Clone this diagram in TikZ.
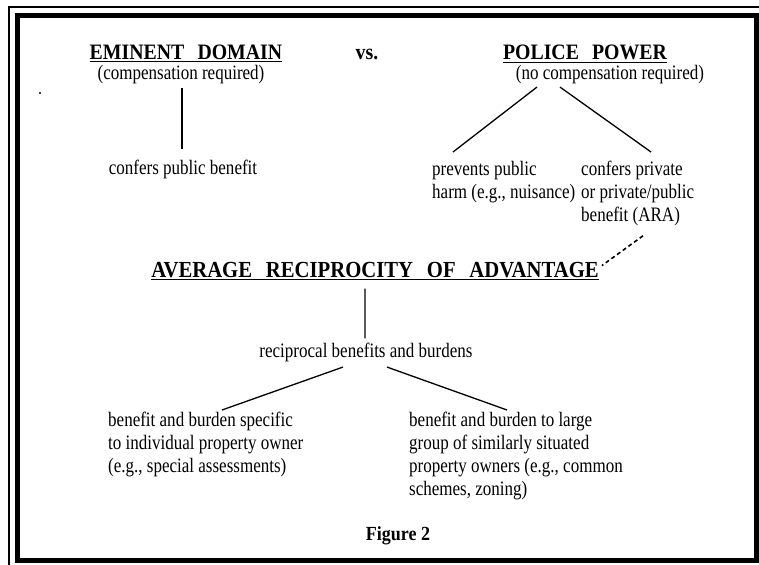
\documentclass[tikz,border=0pt]{standalone}
\usepackage{fontspec}
\setmainfont{Liberation Serif}
\newfontfamily\bodyfont[FakeStretch=0.83]{Liberation Serif}
\newfontfamily\headfont[FakeStretch=0.9]{Liberation Serif}
\begin{document}
\begin{tikzpicture}[x=1bp,y=-1bp,
  head/.style={font=\headfont\fontsize{22bp}{25bp}\selectfont\bfseries, inner sep=0pt, anchor=base},
  txt/.style={font=\bodyfont\fontsize{20.5bp}{22.8bp}\selectfont, inner sep=0pt, anchor=base},
  blk/.style={font=\bodyfont\fontsize{20.5bp}{22.8bp}\selectfont, inner sep=0pt, align=left, anchor=north west},
  link/.style={line width=1.3bp},
  dlink/.style={line width=1.6bp, dash pattern=on 4bp off 3bp},
  frame/.style={line width=5bp},
  thinframe/.style={line width=1.4bp}]
\useasboundingbox (0,0) rectangle (759,565);
% frames
\draw[thinframe] (9,566) -- (9,7) -- (760,7);
\draw[frame] (17,16) rectangle (756,560);
\fill (40,93) circle (1.2bp);
% headings
\node[head] (ed) at (186,60) {\underline{EMINENT\hspace{0.6em}DOMAIN}};
\node[head] (vs) at (367,60) {vs.};
\node[head] (pp) at (585,60) {\underline{POLICE\hspace{0.6em}POWER}};
\node[txt] (edsub) at (181,80) {(compensation required)};
\node[txt] (ppsub) at (610,80) {(no compensation required)};
\node[txt] (edben) at (183,175) {confers public benefit};
\node[blk] (ppharm) at (432,161) {prevents public\\harm (e.g., nuisance)};
\node[blk] (ppben) at (581,161) {confers private\\or private/public\\benefit (ARA)};
\node[head, font=\headfont\fontsize{23bp}{26bp}\selectfont\bfseries] (ara) at (375,277) {\underline{AVERAGE\hspace{0.6em}RECIPROCITY\hspace{0.6em}OF\hspace{0.6em}ADVANTAGE}};
\node[txt] (rbb) at (366,357) {reciprocal benefits and burdens};
\node[blk] (bl) at (108,412) {benefit and burden specific\\to individual property owner\\(e.g., special assessments)};
\node[blk] (br) at (409,412) {benefit and burden to large\\group of similarly situated\\property owners (e.g., common\\schemes, zoning)};
\node[head, font=\headfont\fontsize{20bp}{23bp}\selectfont\bfseries] (fig) at (398,540) {Figure 2};
% connectors
\draw[link, shorten <=3.5bp, shorten >=11bp] ([xshift=1bp]edsub.south) -- ([xshift=-1bp]edben.north);
\draw[link] ([xshift=-73bp,yshift=-2.5bp]ppsub.south) -- ([xshift=21bp,yshift=9bp]ppharm.north west);
\draw[link] ([xshift=-50bp,yshift=-2.5bp]ppsub.south) -- ([xshift=70bp,yshift=9bp]ppben.north west);
\draw[dlink] ([xshift=62bp,yshift=-10bp]ppben.south west) -- ([xshift=3bp,yshift=-4bp]ara.north east);
\draw[link, shorten <=9bp, shorten >=4bp] ([xshift=-10bp]ara.south) -- ([xshift=-1bp]rbb.north);
\draw[link] ([xshift=-23bp,yshift=-5.5bp]rbb.south) -- ([xshift=114bp,yshift=2bp]bl.north west);
\draw[link] ([xshift=21bp,yshift=-5.5bp]rbb.south) -- ([xshift=98bp,yshift=2bp]br.north west);
\end{tikzpicture}
\end{document}
